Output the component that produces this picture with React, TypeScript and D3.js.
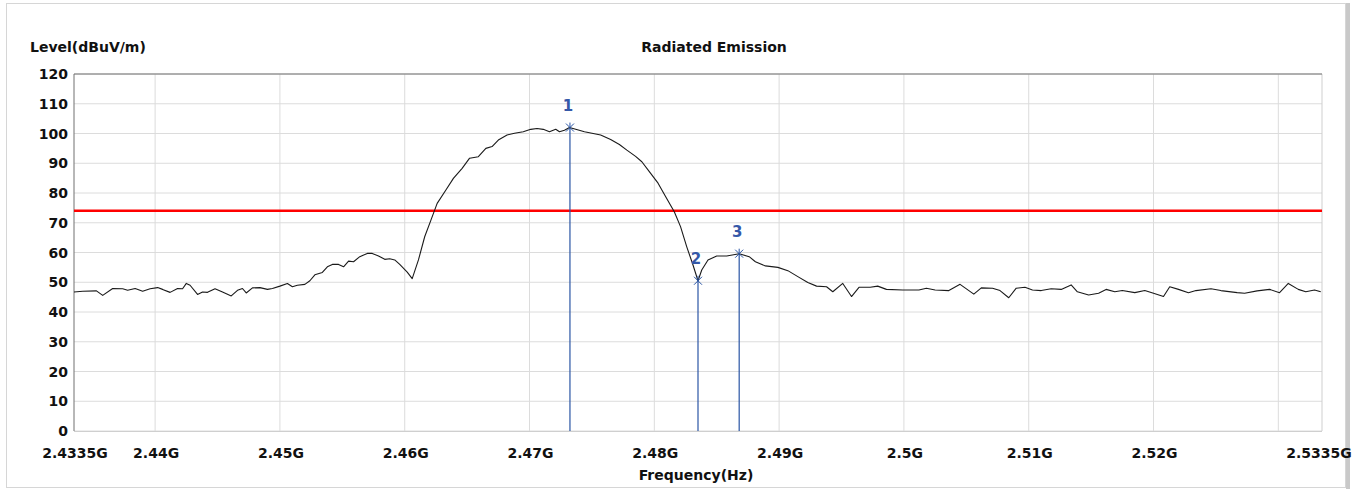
import React from 'react';
import * as d3 from 'd3';

const freqMHz = [
  2433.5, 2434.2, 2435.3, 2435.8, 2436.6, 2437.4, 2437.8, 2438.4, 2439.0, 2439.6,
  2440.2, 2440.6, 2441.2, 2441.8, 2442.2, 2442.5, 2442.8, 2443.4, 2443.8, 2444.2,
  2444.8, 2445.4, 2446.1, 2446.6, 2447.0, 2447.3, 2447.8, 2448.4, 2449.0, 2449.4,
  2450.0, 2450.6, 2451.0, 2451.4, 2452.0, 2452.4, 2452.8, 2453.4, 2453.8, 2454.2,
  2454.7, 2455.1, 2455.5, 2455.9, 2456.4, 2457.0, 2457.4, 2457.9, 2458.4, 2458.8,
  2459.2, 2459.6, 2460.2, 2460.6, 2461.1, 2461.6, 2462.1, 2462.6, 2463.3, 2463.9,
  2464.6, 2465.2, 2465.9, 2466.5, 2467.0, 2467.5, 2468.2, 2468.8, 2469.5, 2470.1,
  2470.6, 2471.1, 2471.6, 2472.1, 2472.4, 2472.8, 2473.2, 2473.7, 2474.4, 2475.0,
  2475.7, 2476.5, 2477.2, 2477.8, 2478.5, 2479.0, 2479.6, 2480.3, 2480.9, 2481.6,
  2482.1, 2482.6, 2483.1, 2483.5, 2483.8, 2484.3, 2485.0, 2485.8, 2486.8, 2487.6,
  2488.1, 2488.9, 2489.9, 2490.7, 2491.5, 2492.3, 2493.0, 2493.8, 2494.3, 2495.1,
  2495.8, 2496.4, 2497.3, 2497.9, 2498.6, 2499.9, 2501.2, 2501.8, 2502.5, 2503.6,
  2504.5, 2505.6, 2506.2, 2507.1, 2507.7, 2508.4, 2509.0, 2509.7, 2510.3, 2511.0,
  2511.8, 2512.6, 2513.4, 2513.9, 2514.8, 2515.6, 2516.2, 2516.9, 2517.5, 2518.5,
  2519.3, 2520.0, 2520.8, 2521.3, 2522.0, 2522.8, 2523.4, 2524.6, 2525.4, 2526.7,
  2527.3, 2528.3, 2529.3, 2530.1, 2530.8, 2531.6, 2532.2, 2532.9, 2533.4,
];

const levels = [
  46.7, 47.0, 47.1, 45.6, 47.9, 47.8, 47.3, 47.9, 47.0, 47.8,
  48.2, 47.6, 46.6, 47.9, 47.8, 49.6, 49.0, 45.9, 46.7, 46.6,
  47.8, 46.7, 45.4, 47.3, 47.9, 46.4, 48.1, 48.2, 47.6, 47.9,
  48.7, 49.6, 48.5, 49.0, 49.3, 50.5, 52.5, 53.3, 55.2, 56.0,
  56.0, 55.2, 57.1, 56.9, 58.6, 59.7, 59.7, 58.8, 57.7, 57.9,
  57.5, 56.0, 53.4, 51.2, 57.5, 65.3, 70.9, 76.5, 81.0, 84.9,
  88.3, 91.7, 92.2, 95.0, 95.6, 97.8, 99.5, 100.1, 100.6, 101.4,
  101.7, 101.4, 100.6, 101.4, 100.6, 101.1, 102.0, 101.4, 100.6, 100.1,
  99.5, 98.0, 96.3, 94.4, 92.3, 90.5, 87.2, 83.3, 78.8, 73.7,
  68.7, 61.9, 55.8, 50.5, 54.1, 57.5, 58.8, 58.8, 59.6, 58.6,
  56.9, 55.5, 55.0, 53.9, 51.9, 49.9, 48.7, 48.5, 46.8, 49.6,
  45.2, 48.3, 48.3, 48.7, 47.6, 47.4, 47.4, 48.0, 47.4, 47.2,
  49.3, 46.0, 48.1, 48.0, 47.2, 44.8, 48.0, 48.3, 47.4, 47.2,
  47.8, 47.6, 49.1, 46.8, 45.7, 46.3, 47.6, 46.8, 47.2, 46.5,
  47.2, 46.3, 45.2, 48.5, 47.6, 46.5, 47.2, 47.8, 47.2, 46.5,
  46.3, 47.1, 47.6, 46.5, 49.6, 47.6, 46.8, 47.4, 46.8,
];

const yTicks = [0, 10, 20, 30, 40, 50, 60, 70, 80, 90, 100, 110, 120];
const xGridMHz = [2440, 2450, 2460, 2470, 2480, 2490, 2500, 2510, 2520, 2530];
const xTickValues = [2433.5, 2440, 2450, 2460, 2470, 2480, 2490, 2500, 2510, 2520, 2533.5];
const xTickLabels = ['2.4335G', '2.44G', '2.45G', '2.46G', '2.47G', '2.48G', '2.49G', '2.5G', '2.51G', '2.52G', '2.5335G'];

const markerIds = ['1', '2', '3'];
const markerFreqs = [2473.24, 2483.5, 2486.8];
const markerLevels = [102.0, 50.5, 59.6];

const limitLevel = 74;

const FONT = "'DejaVu Sans', 'Liberation Sans', Arial, sans-serif";

export default function App() {
  const W = 1368;
  const H = 490;
  const x = d3.scaleLinear().domain([2433.5, 2533.5]).range([74, 1322]);
  const y = d3.scaleLinear().domain([0, 120]).range([431, 74]);
  const [x0, x1] = x.range();
  const [yb, yt] = y.range();

  const line = d3
    .line<number>()
    .x((_, i) => x(freqMHz[i]))
    .y((d) => y(d));

  const markerColor = '#2a55a5';

  return (
    <svg
      width={W}
      height={H}
      style={{ position: 'absolute', left: 0, top: 0, display: 'block', background: '#ffffff' }}
      fontFamily={FONT}
    >
      {/* outer frame */}
      <rect x={6.5} y={3.5} width={1339} height={484} fill="#ffffff" stroke="#d6d6d6" strokeWidth={1} />
      <rect x={1346} y={3} width={4} height={486} fill="#c9c9c9" />

      {/* grid */}
      {yTicks.map((t) => (
        <line key={'hy' + t} x1={x0} x2={x1} y1={y(t)} y2={y(t)} stroke="#dcdcdc" strokeWidth={1} />
      ))}
      {xGridMHz.map((f) => (
        <line key={'gx' + f} x1={x(f)} x2={x(f)} y1={yt} y2={yb} stroke="#dcdcdc" strokeWidth={1} />
      ))}

      {/* plot frame */}
      <line x1={x1} x2={x1} y1={yt} y2={yb} stroke="#cfcfcf" />
      <line x1={x0} x2={x1} y1={yb + 0.5} y2={yb + 0.5} stroke="#cfcfcf" />
      <line x1={x0} x2={x1} y1={yt} y2={yt} stroke="#707070" />
      <line x1={x0} x2={x0} y1={yt} y2={yb} stroke="#707070" />

      {/* limit line */}
      <line x1={x0} x2={x1} y1={y(limitLevel)} y2={y(limitLevel)} stroke="#ff0000" strokeWidth={2.5} />

      {/* markers vertical lines */}
      {markerIds.map((id, i) => (
        <line
          key={'ml' + id}
          x1={x(markerFreqs[i])}
          x2={x(markerFreqs[i])}
          y1={y(markerLevels[i])}
          y2={yb}
          stroke={markerColor}
          strokeWidth={1.2}
        />
      ))}

      {/* trace */}
      <path d={line(levels) || ''} fill="none" stroke="#1a1a1a" strokeWidth={1.1} strokeLinejoin="round" />

      {/* marker symbols & labels */}
      {markerIds.map((id, i) => {
        const mx = x(markerFreqs[i]);
        const my = y(markerLevels[i]);
        const s = 4;
        return (
          <g key={'mk' + id}>
            <line x1={mx - s} x2={mx + s} y1={my - s} y2={my + s} stroke={markerColor} strokeWidth={1} />
            <line x1={mx - s} x2={mx + s} y1={my + s} y2={my - s} stroke={markerColor} strokeWidth={1} />
            <line x1={mx} x2={mx} y1={my - s - 1} y2={my} stroke={markerColor} strokeWidth={1} />
            <text
              x={mx - 2}
              y={my - 17}
              textAnchor="middle"
              fontSize={15}
              fontWeight="bold"
              fill="#3558a8"
            >
              {id}
            </text>
          </g>
        );
      })}

      {/* y tick labels */}
      {yTicks.map((t) => (
        <text
          key={'yl' + t}
          x={68}
          y={y(t)}
          dy="0.36em"
          textAnchor="end"
          fontSize={14}
          fontWeight="bold"
          fill="#111"
        >
          {t}
        </text>
      ))}

      {/* x tick labels */}
      {xTickValues.map((f, i) => (
        <text
          key={'xl' + f}
          x={x(f) + (i === xTickValues.length - 1 ? -3 : 1)}
          y={458}
          textAnchor="middle"
          fontSize={14}
          fontWeight="bold"
          fill="#111"
        >
          {xTickLabels[i]}
        </text>
      ))}

      {/* titles */}
      <text x={30} y={52} fontSize={14} fontWeight="bold" fill="#111">
        Level(dBuV/m)
      </text>
      <text x={714} y={52} textAnchor="middle" fontSize={14} fontWeight="bold" fill="#111">
        Radiated Emission
      </text>
      <text x={(x0 + x1) / 2 - 2} y={480} textAnchor="middle" fontSize={14} fontWeight="bold" fill="#111">
        Frequency(Hz)
      </text>
    </svg>
  );
}
